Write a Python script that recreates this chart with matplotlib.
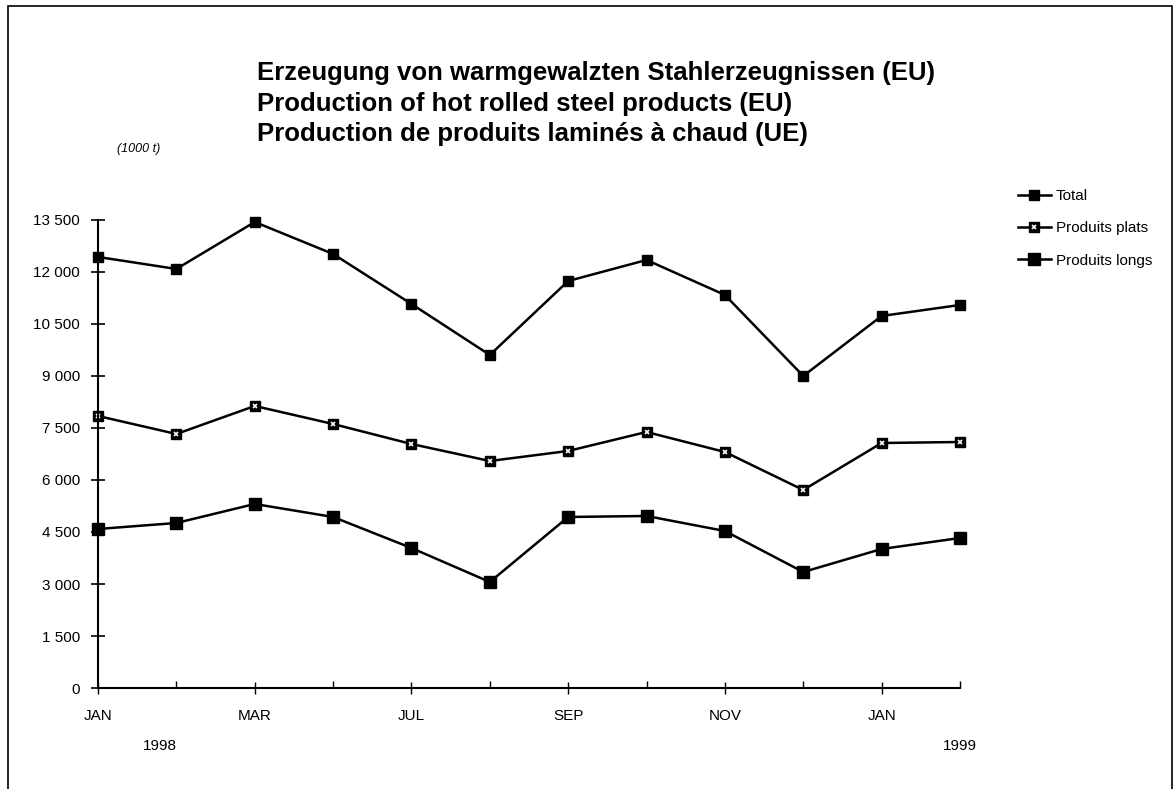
import matplotlib
matplotlib.use('Agg')
import matplotlib.pyplot as plt
from matplotlib.lines import Line2D
from matplotlib.patches import Rectangle

plt.rcParams['font.family'] = ['Liberation Sans Narrow', 'Liberation Sans', 'DejaVu Sans']

months = ['JAN', '', 'MAR', '', 'JUL', '', 'SEP', '', 'NOV', '', 'JAN', '']
total = [12433, 12087, 13442, 12519, 11077, 9606, 11740, 12346, 11337, 9000, 10731, 11048]
plats = [7846, 7327, 8135, 7615, 7038, 6548, 6837, 7385, 6808, 5712, 7067, 7096]
longs = [4587, 4760, 5308, 4933, 4038, 3058, 4933, 4962, 4529, 3346, 4010, 4327]
yticks = [0, 1500, 3000, 4500, 6000, 7500, 9000, 10500, 12000, 13500]

fig = plt.figure(figsize=(11.74, 7.89), dpi=100)
fig.patches.append(Rectangle((0.007, -0.01), 0.991, 1.002, transform=fig.transFigure,
                             fill=False, edgecolor='black', linewidth=1.2))

ax = fig.add_axes([0.0835, 0.128, 0.7342, 0.5932])
x = list(range(len(months)))

ax.plot(x, total, color='black', lw=1.8, marker='s', ms=7.5, mfc='black', mec='black', clip_on=False)
ax.plot(x, plats, color='black', lw=1.8, marker='s', ms=7, mfc='black', mec='black', clip_on=False)
ax.plot(x, plats, ls='none', marker='x', ms=3.5, mec='white', mew=1.2, clip_on=False)
ax.plot(x, longs, color='black', lw=1.8, marker='s', ms=8.5, mfc='black', mec='black', clip_on=False)

ax.set_xlim(0, 11)
ax.set_ylim(0, 13500)
major = [i for i, m in enumerate(months) if m]
minor = [i for i, m in enumerate(months) if not m]
ax.set_xticks(major)
ax.set_xticklabels([months[i] for i in major], fontsize=11)
ax.set_xticks(minor, minor=True)
ax.set_yticks(yticks)
ax.set_yticklabels([f'{v:,}'.replace(',', ' ') for v in yticks], fontsize=11)
ax.tick_params(axis='y', direction='inout', length=10, width=1.2, pad=8)
ax.tick_params(axis='x', which='major', direction='inout', length=8, width=1.0, pad=11)
ax.tick_params(axis='x', which='minor', direction='in', length=5, width=1.0)
for sp in ['top', 'right']:
    ax.spines[sp].set_visible(False)
for sp in ['left', 'bottom']:
    ax.spines[sp].set_linewidth(1.5)
ax.patch.set_alpha(0)

fig.text(0.1, 0.807, '(1000 t)', fontsize=9, style='italic')
fig.text(0.136, 0.049, '1998', fontsize=11, ha='center')
fig.text(0.818, 0.049, '1999', fontsize=11, ha='center')

titles = ['Erzeugung von warmgewalzten Stahlerzeugnissen (EU)',
          'Production of hot rolled steel products (EU)',
          'Production de produits laminés à chaud (UE)']
for i, t in enumerate(titles):
    fig.text(0.219, 0.907 - i * 0.0385, t, fontsize=18.5, fontweight='bold', va='center')

h_total = Line2D([], [], color='black', lw=1.8, marker='s', ms=7.5)
h_plats = (Line2D([], [], color='black', lw=1.8, marker='s', ms=7),
           Line2D([], [], ls='none', marker='x', ms=3.5, mec='white', mew=1.2))
h_longs = Line2D([], [], color='black', lw=1.8, marker='s', ms=8.5)
fig.legend([h_total, h_plats, h_longs], ['Total', 'Produits plats', 'Produits longs'],
           loc='upper left', bbox_to_anchor=(0.855, 0.778), frameon=False, fontsize=11,
           handlelength=2.2, handletextpad=0.3, labelspacing=1.2)

fig.savefig('out.png', dpi=100)
